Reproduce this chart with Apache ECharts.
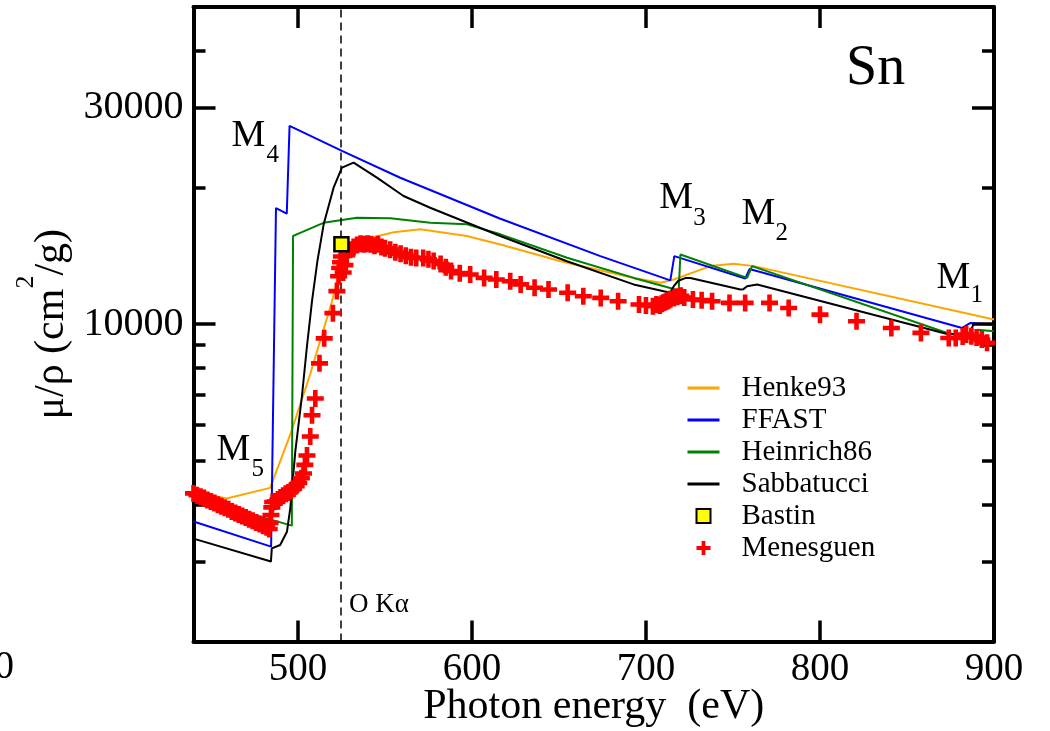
<!DOCTYPE html>
<html>
<head>
<meta charset="utf-8">
<title>Sn mass attenuation coefficient near the M edges</title>
<script src="https://cdn.jsdelivr.net/npm/echarts@6/dist/echarts.min.js"></script>
<style>
  html, body { margin: 0; padding: 0; background: #ffffff; }
  #chart { width: 1050px; height: 731px; }
</style>
</head>
<body>
<div id="chart"></div>
<script>
// Photon energy (eV) and mass attenuation coefficient mu/rho (cm^2/g) for Sn.
const henke93 = [
  [440, 4280], [459, 4130], [484, 4360], [495.6, 5710], [507, 7750], [519.6, 11240],
  [525.3, 13770], [532, 14740], [541.6, 15500], [555, 15950], [570.4, 16190], [597, 15650],
  [616.4, 14990], [651, 13770], [693, 12650], [708.3, 12340], [716, 12550], [737, 13430],
  [750.5, 13590], [762, 13430], [900, 10240]
];
const ffast = [
  [440, 3675], [484.6, 3236], [487.4, 18030], [493.6, 17520], [495.2, 27360], [525.3, 24090],
  [558.8, 21030], [616, 17100], [673.8, 14130], [714, 12490], [716.3, 14130], [757.1, 12614],
  [759.5, 13230], [881.7, 9813], [886.5, 10066], [900, 9950]
];
const heinrich86 = [
  [440, 4150], [496.5, 3600], [497.2, 15650], [501.3, 15900], [514.7, 16730], [533.9, 17170],
  [553.1, 17120], [576.1, 16730], [597.2, 16600], [616.4, 15780], [654.7, 14010], [693, 12650],
  [715, 11990], [718.8, 11830], [719.8, 14250], [758.1, 12650], [761, 13430], [873.1, 9567],
  [889.3, 9337], [890.5, 9724], [900, 9650]
];
const sabbatucci = [
  [440, 3370], [484.5, 3000], [485, 3208], [489.8, 3264], [493.7, 3490], [495.6, 3930],
  [498.5, 5240], [502.3, 6940], [505.2, 8944], [508.1, 11240], [511.2, 13770], [514.8, 16600],
  [520.5, 19990], [525.3, 22130], [532, 22700], [545.4, 21040], [560.7, 19170], [576, 18060],
  [616.3, 15650], [654.6, 13770], [692.9, 12240], [712.1, 11780], [714, 11760], [716, 12130],
  [718.6, 12470], [722.6, 12640], [725.5, 12650], [754.3, 11930], [756, 11950], [758.1, 12130],
  [763.9, 12240], [873.1, 9520], [885.4, 9510], [888.4, 10010], [900, 10010]
];
const bastin = [[525, 15000]];
const menesguen = [
  [440, 4240], [442, 4200], [444, 4170], [446, 4140], [448, 4100], [450, 4070], [452, 4040],
  [454, 4000], [456, 3970], [458, 3940], [460, 3910], [462, 3870], [464, 3840], [466, 3810],
  [468, 3780], [470, 3750], [472, 3720], [474, 3690], [476, 3660], [478, 3630], [480, 3600],
  [482, 3570], [483.5, 3540], [484, 3650], [484.5, 3800], [485, 3950], [485.5, 4060],
  [487, 4070], [488.5, 4110], [490, 4150], [491.5, 4190], [493, 4230], [494.5, 4260],
  [496, 4300], [497.5, 4340], [499, 4400], [500.5, 4470], [502, 4580], [503.2, 4690],
  [504, 4900], [505.2, 5140], [507.1, 5660], [508.1, 6300], [510, 6860], [512.4, 8200],
  [515.1, 9310], [520.1, 10580], [522.4, 11830], [523.4, 12760], [524, 13300], [524.5, 13700],
  [525, 14100], [526, 13000], [527, 13500], [528, 14200], [530, 14600], [532, 14800],
  [534, 14950], [536, 15050], [538, 15000], [540, 15050], [542, 15000], [544, 14900],
  [546, 15000], [548, 14800], [550, 14700], [553, 14600], [556, 14400], [559, 14300],
  [562, 14150], [565, 14050], [568, 14000], [572, 13990], [575, 13900], [578, 13780],
  [582, 13570], [585, 13350], [588, 13100], [593, 12960], [599, 12870], [607, 12650],
  [614, 12550], [622, 12440], [628, 12240], [636, 12030], [644, 11930], [655, 11730],
  [664, 11530], [674, 11430], [684, 11240], [696, 11050], [700, 11000], [704, 10960],
  [706, 11050], [708, 11000], [709, 11100], [710, 11150], [711, 11200], [712, 11240],
  [713, 11300], [714, 11350], [716, 11430], [718, 11500], [720, 11550], [722, 11450],
  [727, 11340], [732, 11300], [738, 11240], [748, 11145], [757, 11145], [771, 11145],
  [782, 10860], [800, 10500], [821, 10150], [841, 9810], [858, 9570], [874, 9330],
  [878, 9330], [882, 9400], [884, 9490], [887, 9410], [890, 9350], [893, 9250], [896, 9100]
];

// O K-alpha emission line (eV)
const oKalpha = 524.9;

// Axis ticks
const xTicks = [500, 600, 700, 800, 900];
const yMajorTicks = [10000, 30000];
const yMinorTicks = [3000, 4000, 5000, 6000, 7000, 8000, 9000, 20000, 40000];

const lineNames = ['Henke93', 'FFAST', 'Heinrich86', 'Sabbatucci'];
const pointNames = ['Bastin', 'Menesguen'];

const SERIF = '"Liberation Serif", "DejaVu Serif", serif';
const INK = '#000000';
const plusPath = 'path://M0.365,0 H0.635 V0.365 H1 V0.635 H0.635 V1 H0.365 V0.635 H0 V0.365 H0.365 Z';
const squarePath = 'path://M0,0 H1 V1 H0 Z';

function tickStyle(len) {
  return { show: true, inside: true, length: len, lineStyle: { color: INK, width: 3.5 } };
}

function xAxisDef(pos, withLabels) {
  const ax = {
    type: 'value', min: 440, max: 900, position: pos,
    axisLine: { show: true, onZero: false, lineStyle: { color: INK, width: 4 } },
    axisTick: Object.assign(tickStyle(21), { customValues: xTicks }),
    axisLabel: { show: false },
    splitLine: { show: false }
  };
  if (withLabels) {
    ax.axisLabel = {
      show: true, customValues: xTicks, margin: 9,
      fontFamily: SERIF, fontSize: 39, color: INK,
      formatter: (v) => String(Math.round(v))
    };
    ax.name = 'Photon energy  (eV)';
    ax.nameLocation = 'middle';
    ax.nameGap = 44;
    ax.nameMoveOverlap = false;
    ax.nameTextStyle = { fontFamily: SERIF, fontSize: 42, color: INK };
  }
  return ax;
}

function yAxisDef(pos, ticks, len, withLine) {
  return {
    type: 'log', logBase: 10, min: 2000, max: 50000, position: pos,
    axisLine: { show: withLine, onZero: false, lineStyle: { color: INK, width: 4 } },
    axisTick: Object.assign(tickStyle(len), { customValues: ticks }),
    axisLabel: { show: false },
    minorTick: { show: false },
    splitLine: { show: false }
  };
}

const yLeft = yAxisDef('left', yMajorTicks, 22, true);
yLeft.axisLabel = {
  show: true, customValues: yMajorTicks, margin: 10,
  fontFamily: SERIF, fontSize: 40, color: INK,
  formatter: (v) => String(Math.round(v))
};
yLeft.name = '{a|μ/ρ (cm}{s|2}{a|/g)}';
yLeft.nameLocation = 'middle';
yLeft.nameGap = 121;
yLeft.nameMoveOverlap = false;
yLeft.nameTextStyle = {
  rich: {
    a: { fontFamily: SERIF, fontSize: 42, color: INK, lineHeight: 59, verticalAlign: 'bottom' },
    s: { fontFamily: SERIF, fontSize: 26, color: INK, lineHeight: 26, verticalAlign: 'top' }
  }
};

function lineSeries(name, data, color) {
  return {
    type: 'line', name: name, data: data, color: color,
    symbol: 'none', showSymbol: false, smooth: false,
    lineStyle: { color: color, width: 2 }, itemStyle: { color: color },
    emphasis: { disabled: true }, z: 2
  };
}

// Text annotations: element symbol, edge labels and the O K-alpha marker
function txt(text, x, y, size, align) {
  return {
    type: 'text', x: x, y: y, silent: true, z: 50,
    style: { text: text, fontFamily: SERIF, fontSize: size, fill: INK,
             align: align || 'left', verticalAlign: 'middle' }
  };
}
const edgeLabels = [
  ['M', '4', 231.5, 136.1, 266.5, 155.3],
  ['M', '5', 216.5, 450.5, 251.5, 469.3],
  ['M', '3', 659.3, 198.5, 693.3, 218],
  ['M', '2', 741.5, 213.8, 775.5, 233.5],
  ['M', '1', 936.5, 277.8, 970.5, 295]
];
const graphics = [
  txt('Sn', 846, 68.8, 56),
  txt('O Kα', 349, 605.3, 27),
  txt('0', 14, 667.8, 39, 'right')
];
edgeLabels.forEach(([m, sub, mx, my, sx, sy]) => {
  graphics.push(txt(m, mx, my, 38));
  graphics.push(txt(sub, sx, sy, 25));
});

const legendData = lineNames.map((n) => ({ name: n, itemStyle: { opacity: 0 } }))
  .concat(pointNames.map((n) => ({ name: n })));

const chart = echarts.init(document.getElementById('chart'), null, { renderer: 'canvas' });
chart.setOption({
  animation: false,
  backgroundColor: '#ffffff',
  grid: {
    left: 193.5, top: 7, width: 800.5, height: 634.5,
    containLabel: false, outerBoundsMode: 'none'
  },
  legend: {
    orient: 'vertical', left: 686, top: 372, padding: 0,
    itemWidth: 32, itemHeight: 14, itemGap: 0, selectedMode: false,
    lineStyle: { width: 3 },
    textStyle: { fontFamily: SERIF, fontSize: 29, color: INK, lineHeight: 32, padding: [0, 0, 0, 17] },
    data: legendData
  },
  xAxis: [xAxisDef('bottom', true), xAxisDef('top', false)],
  yAxis: [
    yLeft,
    yAxisDef('left', yMinorTicks, 12, false),
    yAxisDef('right', yMajorTicks, 22, true),
    yAxisDef('right', yMinorTicks, 12, false)
  ],
  series: [
    Object.assign(lineSeries('Henke93', henke93, '#ffa500'), {
      markLine: {
        silent: true, symbol: ['none', 'none'], label: { show: false },
        lineStyle: { type: [8, 5], color: INK, width: 1.5 },
        data: [{ xAxis: oKalpha }]
      }
    }),
    lineSeries('FFAST', ffast, '#0000ff'),
    lineSeries('Heinrich86', heinrich86, '#008000'),
    lineSeries('Sabbatucci', sabbatucci, '#000000'),
    {
      type: 'scatter', name: 'Menesguen', data: menesguen,
      symbol: plusPath, symbolSize: 17, clip: false,
      itemStyle: { color: '#ff0000', opacity: 1 }, emphasis: { disabled: true }, z: 5
    },
    {
      type: 'scatter', name: 'Bastin', data: bastin,
      symbol: squarePath, symbolSize: 14, clip: false,
      itemStyle: { color: '#ffff00', borderColor: INK, borderWidth: 2.5, opacity: 1 },
      emphasis: { disabled: true }, z: 6
    }
  ],
  graphic: graphics
});
</script>
</body>
</html>
